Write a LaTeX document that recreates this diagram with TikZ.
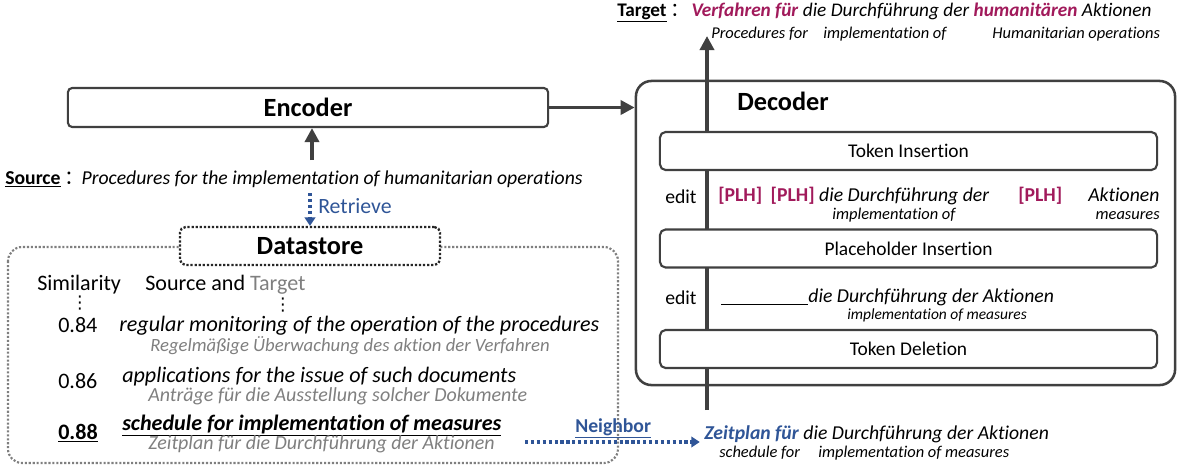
\documentclass[tikz,border=0pt]{standalone}
\usepackage{fontspec}
\setmainfont{Carlito}[Ligatures={NoCommon}]
\newfontfamily\cjk{Noto Sans CJK SC}
\newfontfamily\dejavu{DejaVu Sans}
\usetikzlibrary{arrows.meta,positioning}

\definecolor{plhred}{HTML}{A11A5B}
\definecolor{nbblue}{HTML}{2F5597}
\definecolor{lgray}{HTML}{7F7F7F}
\definecolor{dgray}{HTML}{404040}

\newcommand{\bigfont}{\fontsize{18.7}{22}\selectfont}
\newcommand{\dsfont}{\fontsize{15.7}{18}\selectfont}
\newcommand{\txtfont}{\fontsize{14}{17}\selectfont}
\newcommand{\boxfont}{\fontsize{13.8}{16}\selectfont}
\newcommand{\grayfont}{\fontsize{14.2}{16}\selectfont}
\newcommand{\glossfont}{\fontsize{11.7}{13}\selectfont}
\newcommand{\fwcolon}{\hspace{3pt}{\cjk ：}\hspace{-2pt}}
\newcommand{\vdotsmark}{{\dejavu\fontsize{12.5}{12.5}\selectfont ⋮}}

\begin{document}
\begin{tikzpicture}[x=0.025cm,y=-0.025cm,
    txt/.style={inner sep=0pt,anchor=base west},
    modbox/.style={draw=dgray,line width=1.5pt,rounded corners=3pt,fill=white,
      minimum width=12cm,minimum height=0.975cm,font=\bigfont\bfseries},
    stepbox/.style={draw=dgray,line width=1.5pt,rounded corners=4pt,fill=white,
      minimum width=12.425cm,minimum height=0.95cm,font=\boxfont},
    flow/.style={draw=dgray,line width=2.8pt,-{Triangle[length=10pt,width=10pt]}},
    dotflow/.style={draw=nbblue,line width=2.3pt,dash pattern=on 2.3pt off 1.9pt,-{Triangle[length=6pt,width=7.5pt]}}]
    \useasboundingbox (0,0) rectangle (1184,470);

    % encoder side
    \node[modbox] (enc) at (308,107.5) {Encoder};
    \node[txt,font=\txtfont] (src) at (5,184) {\underline{\textbf{Source}}\fwcolon\textit{Procedures for the implementation of humanitarian operations}};
    \coordinate (srcup) at (312,160);
    \draw[flow] (srcup) -- (srcup |- enc.south);

    % datastore
    \draw[draw=lgray,line width=1.5pt,dash pattern=on 1.5pt off 1.3pt,rounded corners=10pt] (8,247) rectangle (618,463);
    \node[draw=black!85,line width=1.6pt,dash pattern=on 1.6pt off 1.3pt,rounded corners=4pt,fill=white,
      minimum width=6.5cm,minimum height=0.95cm,font=\bigfont\bfseries] (ds) at (310,246) {Datastore};
    \coordinate (retr) at (310,193);
    \draw[dotflow] (retr) -- (ds.north);
    \node[txt,font=\fontsize{15.5}{18}\selectfont,text=nbblue] (ret) at (318,213) {Retrieve};

    \node[txt,font=\dsfont] (sim) at (37,290) {Similarity};
    \node[txt,font=\dsfont] (st) at (145,290) {Source and \textcolor{lgray}{Target}};
    \node[inner sep=0pt] (vd1) at (80,303) {\vdotsmark};
    \node[inner sep=0pt] (vd2) at (283,305) {\vdotsmark};

    \node[txt,font=\dsfont] (s1) at (58,332) {0.84};
    \node[txt,font=\dsfont\itshape] (e1) at (119,331) {regular monitoring of the operation of the procedures};
    \node[txt,font=\fontsize{13.3}{16}\selectfont\itshape,text=lgray] (g1) at (150,351) {Regelmäßige Überwachung des aktion der Verfahren};
    \node[txt,font=\dsfont] (s2) at (58,388) {0.86};
    \node[txt,font=\dsfont\itshape] (e2) at (122,382) {applications for the issue of such documents};
    \node[txt,font=\grayfont\itshape,text=lgray] (g2) at (148,401) {Anträge für die Ausstellung solcher Dokumente};
    \node[txt,font=\dsfont\bfseries] (s3) at (58,439) {\underline{0.88}};
    \node[txt,font=\dsfont\bfseries\itshape] (e3) at (122,430) {\underline{schedule for implementation of measures}};
    \node[txt,font=\grayfont\itshape,text=lgray] (g3) at (148,449) {Zeitplan für die Durchführung der Aktionen};

    % neighbor
    \node[txt,font=\txtfont\bfseries,text=nbblue] (nb) at (575,432) {\underline{Neighbor}};
    \node[txt,font=\txtfont] (zeit) at (704,439) {\textcolor{nbblue}{\textbf{\textit{Zeitplan für}}} \textit{die Durchführung der Aktionen}};
    \node[txt,font=\glossfont\itshape] (zg1) at (719,457) {schedule for};
    \node[txt,font=\glossfont\itshape] (zg2) at (818,457) {implementation of measures};
    \coordinate (nbstart) at (525,442);
    \draw[dotflow,shorten >=3pt] (nbstart) -- (nbstart -| zeit.west);

    % decoder
    \node[draw=dgray,line width=1.8pt,rounded corners=11pt,minimum width=13.475cm,minimum height=7.6cm] (dec) at (905.5,233) {};
    \node[txt,font=\bigfont\bfseries] (dectitle) at (737,110) {Decoder};
    \draw[flow] (enc.east) -- (enc.east -| dec.west);
    \coordinate (dbot) at (707,410);
    \coordinate (dtop) at (707,36);
    \draw[flow] (dbot) -- (dtop);

    \node[stepbox] (tins) at (908.5,151) {Token Insertion};
    \node[stepbox] (pins) at (908.5,248.5) {Placeholder Insertion};
    \node[stepbox] (tdel) at (908.5,349) {Token Deletion};

    \node[txt,font=\txtfont] (edit1) at (665,203) {edit};
    \node[txt,font=\txtfont] (plh) at (718,201) {\textcolor{plhred}{\textbf{[PLH]}}\hspace{6pt}\textcolor{plhred}{\textbf{[PLH]}} \textit{die Durchführung der}};
    \node[txt,font=\txtfont\bfseries,text=plhred] (plh3) at (1018,201) {[PLH]};
    \node[txt,font=\txtfont\itshape] (akt) at (1088,201) {Aktionen};
    \node[txt,font=\glossfont\itshape] (pg1) at (832,219) {implementation of};
    \node[txt,font=\glossfont\itshape,anchor=base east] (pg2) at (1160,219) {measures};

    \node[txt,font=\txtfont] (edit2) at (665,304) {edit};
    \node[txt,font=\txtfont\itshape] (del) at (721,302) {\underline{\hspace{62pt}}die Durchführung der Aktionen};
    \node[txt,font=\fontsize{11}{13}\selectfont\itshape] (dg) at (847,319) {implementation of measures};

    % target
    \node[txt,font=\fontsize{13.7}{16}\selectfont] (tgt) at (617,16) {\underline{\textbf{Target}}\fwcolon\hspace{3pt}\textcolor{plhred}{\textbf{\textit{Verfahren für}}} \textit{die Durchführung der} \textcolor{plhred}{\textbf{\textit{humanitären}}} \textit{Aktionen}};
    \node[txt,font=\glossfont\itshape] (tg1) at (711,38) {Procedures for};
    \node[txt,font=\glossfont\itshape] (tg2) at (823,38) {implementation of};
    \node[txt,font=\glossfont\itshape] (tg3) at (992,38) {Humanitarian operations};
\end{tikzpicture}
\end{document}
